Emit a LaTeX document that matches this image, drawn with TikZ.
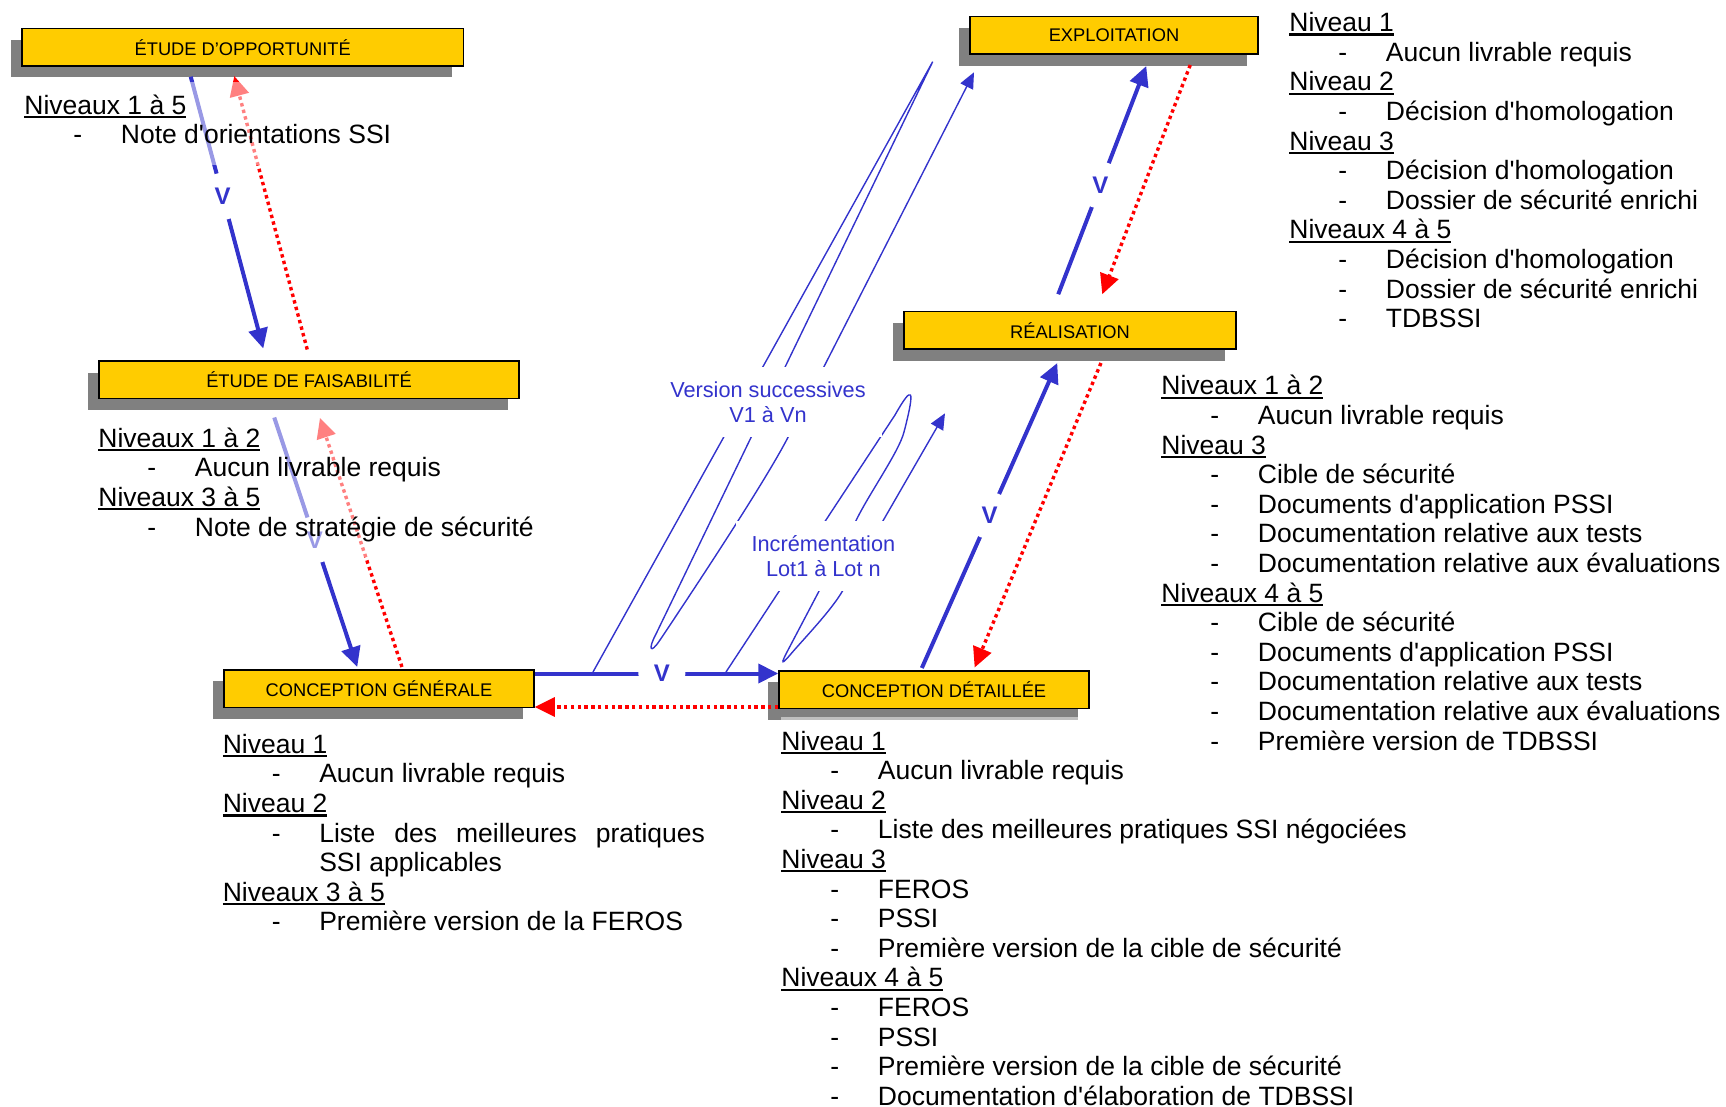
\documentclass[tikz,border=0pt]{standalone}
\usepackage{fontspec}
\newfontfamily\lsans{Liberation Sans}
\newfontfamily\lsansbf{Liberation Sans Bold}
\usetikzlibrary{calc,arrows.meta,shadows}

\newcommand{\niv}[1]{\setbox0\hbox{#1}\rlap{\rule[-2pt]{\wd0}{1.1pt}}\box0}
\newcommand{\itm}[1]{\hspace*{24.5pt}\makebox[23.75pt][l]{-}#1}

\begin{document}
\begin{tikzpicture}[x=0.5pt,y=-0.5pt,
  phase/.style={draw=black,line width=.75pt,fill=vm_yellow,inner sep=0pt,minimum height=18.75pt,
    font=\lsans\fontsize{9.15pt}{11pt}\selectfont,
    drop shadow={shadow xshift=-5.75pt,shadow yshift=-5.75pt,fill=vm_gray,opacity=1}},
  varrow/.style={-{Triangle[length=10pt,width=9.5pt]},line width=2pt,vm_blue},
  rarrow/.style={-{Triangle[length=10pt,width=9.5pt]},line width=1.7pt,vm_red,dash pattern=on 1.7pt off 1.7pt},
  iterline/.style={-{Triangle[length=8pt,width=7pt]},line width=.7pt,vm_blue},
  vlab/.style={circle,fill=white,minimum size=23.5pt,inner sep=0pt,text=vm_blue,
    font=\lsansbf\fontsize{12pt}{14pt}\selectfont},
  cyclabel/.style={fill=white,inner xsep=8pt,inner ysep=7pt,text=vm_blue,align=center,
    font=\lsans\fontsize{10.85pt}{12.75pt}\selectfont},
  txt/.style={anchor=base west,inner xsep=0pt,inner ysep=6pt,fill=white,fill opacity=.5,text opacity=1,
    font=\lsans\fontsize{13.25pt}{14.8pt}\selectfont}]
\definecolor{vm_yellow}{RGB}{255,204,0} %#FFCC00
\definecolor{vm_gray}{RGB}{128,128,128} %#808080
\definecolor{vm_blue}{RGB}{51,51,204}   %#3333CC
\definecolor{vm_red}{RGB}{255,0,0}      %#FF0000

\useasboundingbox (0,0) rectangle (1726,1107);

% phases
\node [phase,minimum width=220.75pt] (opp)  at (242.75,47.25) {ÉTUDE D’OPPORTUNITÉ};
\node [phase,minimum width=210pt]    (fais) at (309,380)      {ÉTUDE DE FAISABILITÉ};
\node [phase,minimum width=155pt]    (cg)   at (379,688.5)    {CONCEPTION GÉNÉRALE};
\node [phase,minimum width=155pt]    (cd)   at (934,689.5)    {CONCEPTION DÉTAILLÉE};
\node [phase,minimum width=166pt]    (real) at (1070,330.5)   {RÉALISATION};
\node [phase,minimum width=144pt]    (expl) at (1114,35.5)    {EXPLOITATION};

% cycle en V
\draw [varrow] ($(opp.south west)+(169.5,10)$) -- ($(fais.north west)+(165,-12)$) node [vlab,pos=.44] {V};
\draw [rarrow] ($(fais.north west)+(209,-11)$) -- ($(opp.south west)+(213,9.3)$);
\draw [varrow] ($(fais.south west)+(176,18)$) -- ($(cg.north west)+(134,-2)$) node [vlab,pos=.49] {V};
\draw [rarrow] ($(cg.north west)+(178.7,-2)$) -- ($(fais.south west)+(221.7,18.5)$);
\draw [varrow] ($(cg.north east)+(0,4.5)$) -- ($(cd.north west)+(0,3.5)$) node [vlab,pos=.522] {V};
\draw [rarrow] ($(cd.south west)+(0,-2)$) -- ($(cg.south east)+(0,-1)$);
\draw [varrow] ($(cd.north west)+(143.6,-2)$) -- ($(real.south west)+(154,13)$) node [vlab,pos=.5] {V};
\draw [rarrow] ($(real.south west)+(197.7,13)$) -- ($(cd.north west)+(196.4,-2.5)$);
\draw [varrow] ($(real.north west)+(155,-16.75)$) -- ($(expl.south west)+(177,11)$) node [vlab,pos=.478] {V};
\draw [rarrow] ($(expl.south west)+(221,10)$) -- ($(real.north west)+(199,-16.75)$);

% iterations
\draw [iterline] (593,672) -- (932.7,61.7) -- (656,634)
  .. controls (648,649) and (650,655) .. (660,640)
  .. controls (672,622) and (762.8,486.7) .. (788.3,436.7) -- (974,72.3);
\draw [iterline] (726,672) -- (895,415)
  .. controls (912,385) and (916,386) .. (904,432)
  .. controls (899,452) and (868,495) .. (855,522.7) -- (787,652)
  .. controls (780.7,664) and (781.5,665) .. (790,655)
  .. controls (802.7,640) and (831.2,610.7) .. (842.7,590.7) -- (945,413.3);
\node [cyclabel] (vers) at (768,402)   {Version successives\\V1 à Vn};
\node [cyclabel] (incr) at (823.4,556) {Incrémentation\\Lot1 à Lot n};

% livrables
\node [txt] (lopp) at (24,114.3) {\begin{tabular}[t]{@{}l@{}}
  \niv{Niveaux 1 à 5}\\
  \itm{Note d'orientations SSI}
\end{tabular}};
\node [txt] (lfais) at (98,447.3) {\begin{tabular}[t]{@{}l@{}}
  \niv{Niveaux 1 à 2}\\
  \itm{Aucun livrable requis}\\
  \niv{Niveaux 3 à 5}\\
  \itm{Note de stratégie de sécurité}
\end{tabular}};
\node [txt] (lcg) at (222.4,753.3) {\begin{tabular}[t]{@{}l@{}}
  \niv{Niveau 1}\\
  \itm{Aucun livrable requis}\\
  \niv{Niveau 2}\\
  \itm{\makebox[192.85pt][s]{Liste des meilleures pratiques}}\\
  \hspace*{48.25pt}SSI applicables\\
  \niv{Niveaux 3 à 5}\\
  \itm{Première version de la FEROS}
\end{tabular}};
\node [txt] (lcd) at (781,750) {\begin{tabular}[t]{@{}l@{}}
  \niv{Niveau 1}\\
  \itm{Aucun livrable requis}\\
  \niv{Niveau 2}\\
  \itm{Liste des meilleures pratiques SSI négociées}\\
  \niv{Niveau 3}\\
  \itm{FEROS}\\
  \itm{PSSI}\\
  \itm{Première version de la cible de sécurité}\\
  \niv{Niveaux 4 à 5}\\
  \itm{FEROS}\\
  \itm{PSSI}\\
  \itm{Première version de la cible de sécurité}\\
  \itm{Documentation d'élaboration de TDBSSI}
\end{tabular}};
\node [txt] (lreal) at (1161,395) {\begin{tabular}[t]{@{}l@{}}
  \niv{Niveaux 1 à 2}\\
  \itm{Aucun livrable requis}\\
  \niv{Niveau 3}\\
  \itm{Cible de sécurité}\\
  \itm{Documents d'application PSSI}\\
  \itm{Documentation relative aux tests}\\
  \itm{Documentation relative aux évaluations}\\
  \niv{Niveaux 4 à 5}\\
  \itm{Cible de sécurité}\\
  \itm{Documents d'application PSSI}\\
  \itm{Documentation relative aux tests}\\
  \itm{Documentation relative aux évaluations}\\
  \itm{Première version de TDBSSI}
\end{tabular}};
\node [txt] (lexpl) at (1289,31.7) {\begin{tabular}[t]{@{}l@{}}
  \niv{Niveau 1}\\
  \itm{Aucun livrable requis}\\
  \niv{Niveau 2}\\
  \itm{Décision d'homologation}\\
  \niv{Niveau 3}\\
  \itm{Décision d'homologation}\\
  \itm{Dossier de sécurité enrichi}\\
  \niv{Niveaux 4 à 5}\\
  \itm{Décision d'homologation}\\
  \itm{Dossier de sécurité enrichi}\\
  \itm{TDBSSI}
\end{tabular}};

\end{tikzpicture}
\end{document}
